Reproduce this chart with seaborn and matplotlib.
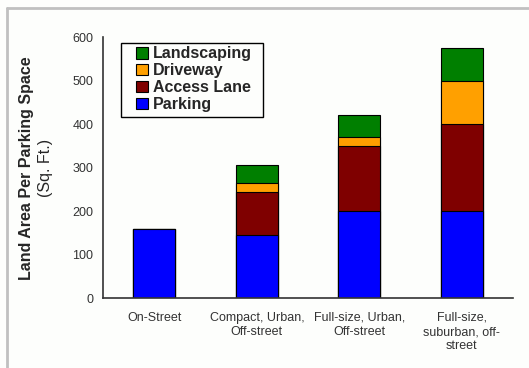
import pandas as pd
import matplotlib.pyplot as plt
import seaborn as sns
from matplotlib.patches import Patch, Rectangle
from matplotlib.lines import Line2D

# Data (sq. ft. per parking space)
categories = ['On-Street', 'Compact, Urban,\nOff-street', 'Full-size, Urban,\nOff-street',
              'Full-size,\nsuburban, off-\nstreet']
parking = [160, 145, 200, 200]
access_lane = [0, 100, 150, 200]
driveway = [0, 20, 20, 100]
landscaping = [0, 40, 50, 75]

series = ['Parking', 'Access Lane', 'Driveway', 'Landscaping']
colors = {'Parking': '#0000FF', 'Access Lane': '#7F0000',
          'Driveway': '#FFA000', 'Landscaping': '#007F00'}

df = pd.DataFrame({'category': categories, 'Parking': parking, 'Access Lane': access_lane,
                   'Driveway': driveway, 'Landscaping': landscaping})
# cumulative tops for stacking
cum = df[series].cumsum(axis=1)

sns.set_style('white')
plt.rcParams['font.family'] = ['Liberation Sans', 'DejaVu Sans']

fig = plt.figure(figsize=(5.29, 3.68), dpi=100)
fig.patch.set_facecolor('#fdfefc')
ax = fig.add_axes([0.195, 0.19, 0.775, 0.709])
ax.set_facecolor('none')

# draw from the top layer down so lower segments sit on top
for s in reversed(series):
    sns.barplot(x=df['category'], y=cum[s], color=colors[s], width=0.41,
                edgecolor='black', linewidth=0.8, saturation=1, ax=ax)

ax.set_xlim(-0.5, 3.5)
ax.set_ylim(0, 600)
ax.set_yticks(range(0, 601, 100))
ax.set_xticks(range(4))
ax.set_xticklabels(categories, fontsize=9, color='#333333', linespacing=1.25)
ax.set_xticks([-0.5, 0.5, 1.5, 2.5, 3.5], minor=True)
ax.tick_params(axis='x', which='major', length=0, pad=10)
ax.tick_params(axis='x', which='minor', length=4, width=1, color='#333333', direction='out')
ax.tick_params(axis='y', length=4, width=1, color='#333333', direction='out', labelsize=9,
               labelcolor='#333333', pad=3)
ax.set_xlabel('')
ax.set_ylabel('')
for sp in ['top', 'right']:
    ax.spines[sp].set_visible(False)
for sp in ['left', 'bottom']:
    ax.spines[sp].set_color('#333333')
    ax.spines[sp].set_linewidth(1.2)

# y label, two lines
fig.text(0.051, 0.543, 'Land Area Per Parking Space', rotation=90, ha='center', va='center',
         fontsize=11.5, fontweight='bold')
fig.text(0.086, 0.543, '(Sq. Ft.)', rotation=90, ha='center', va='center', fontsize=11.5)

handles = [Patch(facecolor=colors[s], edgecolor='black', linewidth=0.8) for s in reversed(series)]
leg = ax.legend(handles, list(reversed(series)), loc='upper left', bbox_to_anchor=(0.08, 0.965),
                frameon=False, prop={'weight': 'bold', 'size': 11.5},
                handlelength=0.75, handleheight=0.75, handletextpad=0.3, labelspacing=0.12,
                borderpad=0, borderaxespad=0)
ax.add_patch(Rectangle((0.044, 0.693), 0.346, 0.284, transform=ax.transAxes, fill=False,
                       edgecolor='black', linewidth=1.0, clip_on=False, zorder=5))

# light gray frame on top and left
fig.add_artist(Line2D([0.013, 1], [0.978, 0.978], color='#c0c0c0', lw=2, transform=fig.transFigure))
fig.add_artist(Line2D([0.013, 0.013], [0, 0.978], color='#c0c0c0', lw=2, transform=fig.transFigure))

plt.savefig('out.png', dpi=100)
